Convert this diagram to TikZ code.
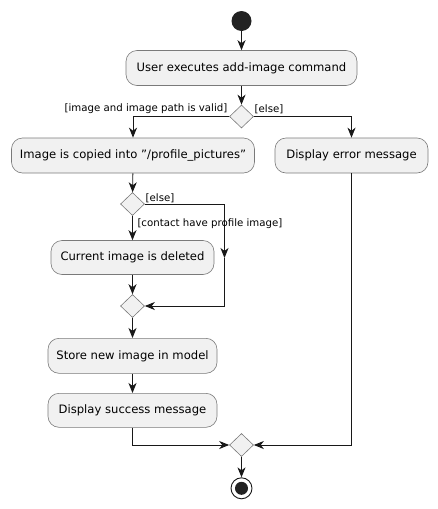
\documentclass[tikz,border=0pt]{standalone}
\usepackage{fontspec}
\setmainfont{DejaVu Sans}[Ligatures=ResetAll]
\usetikzlibrary{shapes.geometric,arrows.meta}
\definecolor{boxfill}{HTML}{F1F1F1}
\definecolor{boxline}{HTML}{7A7A7A}
\definecolor{ink}{HTML}{181818}
\definecolor{dot}{HTML}{222222}
\tikzset{
  actbox/.style={draw=boxline, fill=boxfill, line width=0.6pt, rounded corners=11pt,
    inner sep=0pt, font=\fontsize{11.6}{14}\selectfont, text=black},
  decision/.style={diamond, draw=boxline, fill=boxfill, line width=0.6pt, inner sep=0pt,
    minimum width=24pt, minimum height=23pt},
  flow/.style={draw=ink, line width=0.9pt, -{Stealth[length=10pt,width=8pt,inset=3pt]}},
  plain/.style={draw=ink, line width=0.9pt},
  guard/.style={font=\fontsize{10.2}{12}\selectfont, text=black, inner sep=0pt},
}
\begin{document}
\begin{tikzpicture}[x=1pt,y=-1pt]
\useasboundingbox (0,0) rectangle (438,509);
% start
\node[circle, fill=dot, minimum size=20pt, inner sep=0pt] (start) at (241.5,21) {};
% boxes
\node[actbox, minimum width=231pt, minimum height=35pt] (b1) at (241.5,68) {User executes add-image command};
\node[decision] (d1) at (241.5,116.5) {};
\node[actbox, minimum width=243pt, minimum height=35pt] (b2) at (133,155.5) {Image is copied into "/profile\_pictures"};
\node[actbox, minimum width=153pt, minimum height=35pt] (b3) at (351.5,155.5) {Display error message};
\node[decision] (d2) at (132.5,204) {};
\node[actbox, minimum width=163pt, minimum height=34pt] (b4) at (132.5,257.5) {Current image is deleted};
\node[decision] (d3) at (132.5,306) {};
\node[actbox, minimum width=169pt, minimum height=35pt] (b5) at (132.5,355.8) {Store new image in model};
\node[actbox, minimum width=169pt, minimum height=34pt] (b6) at (132.5,410.3) {Display success message};
\node[decision] (d4) at (241.5,445) {};
% end
\node[circle, draw=ink, fill=white, line width=0.9pt, minimum size=21pt, inner sep=0pt] (stop) at (241.5,488.3) {};
\node[circle, fill=dot, minimum size=13pt, inner sep=0pt] at (stop) {};
% coordinates
\coordinate (r2) at (224.5,204);
\coordinate (r2m) at (224.5,258);
\coordinate (r2b) at (224.5,306);
% connectors
\draw[flow] (start) -- (b1);
\draw[flow] (b1) -- (d1);
\draw[flow] (d1.west) -| (b2.north);
\draw[flow] (d1.east) -| (b3.north);
\draw[flow] (b2) -- (d2);
\draw[flow] (d2) -- (b4);
\draw[flow] (d2.east) -- (r2) -- (r2m);
\draw[flow] (r2m) -- (r2b) -- (d3.east);
\draw[flow] (b4) -- (d3);
\draw[flow] (d3) -- (b5);
\draw[flow] (b5) -- (b6);
\draw[flow] (b6.south) |- (d4.west);
\draw[flow] (b3.south) |- (d4.east);
\draw[flow] (d4) -- (stop);
% guards
\node[guard, anchor=east] at (227.5,109) {[image and image path is valid]};
\node[guard, anchor=west] at (254.5,109) {[else]};
\node[guard, anchor=west] at (145.5,198.5) {[else]};
\node[guard, anchor=west] at (137.3,223.3) {[contact have profile image]};
\end{tikzpicture}
\end{document}
